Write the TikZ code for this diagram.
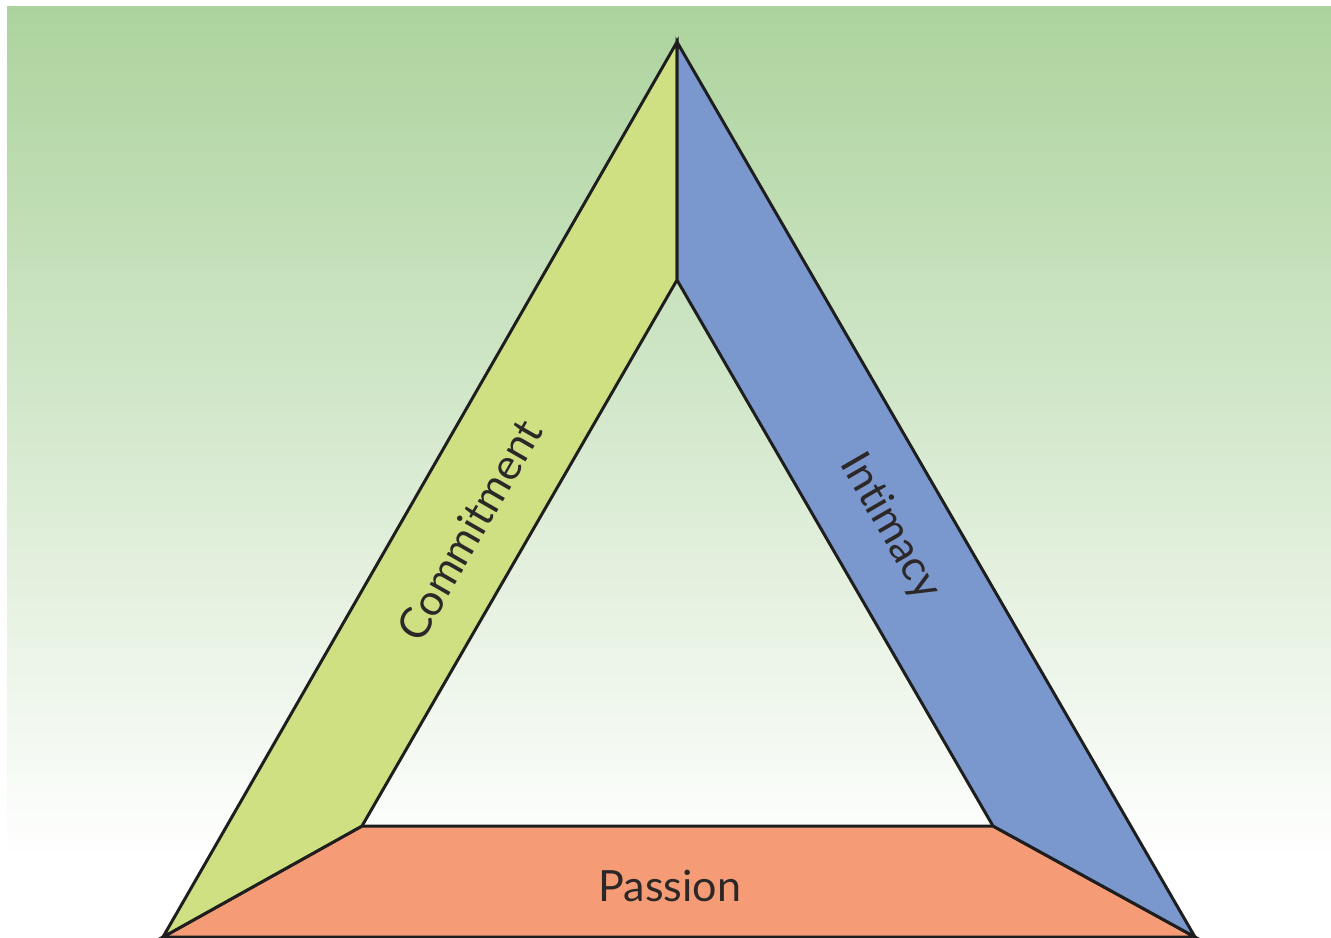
\documentclass[tikz,border=0pt]{standalone}
\usepackage{fontspec}
\setmainfont{Lato}[Ligatures={NoCommon,NoRare,NoDiscretionary}]
\definecolor{bgtop}{RGB}{172,211,157}
\definecolor{commitfill}{RGB}{207,224,130}
\definecolor{intimfill}{RGB}{122,151,206}
\definecolor{passfill}{RGB}{245,155,118}
\definecolor{edge}{RGB}{30,30,30}
\definecolor{txt}{RGB}{45,40,40}
\begin{document}
\begin{tikzpicture}[x=0.02cm,y=-0.02cm,
  side/.style={draw=edge,line width=1.7pt,line join=miter},
  lbl/.style={font=\fontsize{24.5}{28}\selectfont,text=txt,inner sep=0pt}]
\useasboundingbox (0,0) rectangle (1331,937);
\fill[white] (0,0) rectangle (1331,937);
\shade[top color=bgtop,bottom color=white] (7,6) rectangle (1331,860);
% corners
\coordinate (top) at (677,42);
\coordinate (bl) at (163,937);
\coordinate (br) at (1195,937);
\coordinate (itop) at (677,280);
\coordinate (ibl) at (362,826);
\coordinate (ibr) at (993,826);
% bands
\filldraw[side,fill=passfill] (bl) -- (ibl) -- (ibr) -- (br) -- cycle;
\filldraw[side,fill=commitfill] (top) -- (itop) -- (ibl) -- (bl) -- cycle;
\filldraw[side,fill=intimfill] (top) -- (br) -- (ibr) -- (itop) -- cycle;
% labels
\node[lbl,rotate=60.1] (commitment) at (469,530) {Commitment};
\node[lbl,rotate=-59.9] (intimacy) at (890,527) {Intimacy};
\node[lbl] (passion) at (670,886) {Passion};
\end{tikzpicture}
\end{document}
